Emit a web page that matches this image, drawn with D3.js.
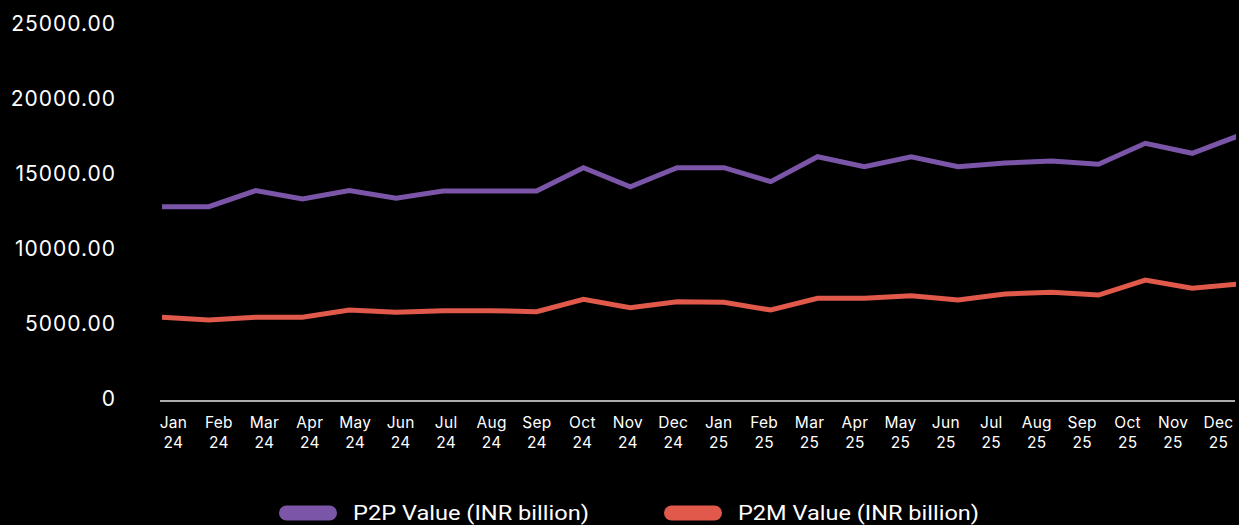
<!DOCTYPE html>
<html>
<head>
<meta charset="utf-8">
<script src="https://cdn.jsdelivr.net/npm/d3@7"></script>
<style>
  html, body { margin: 0; padding: 0; background: #000; }
  svg { display: block; }
</style>
</head>
<body>
<svg id="chart" width="1239" height="525"></svg>
<script>
// Monthly UPI transaction values, Jan 2024 – Dec 2025
const months = ["Jan 24","Feb 24","Mar 24","Apr 24","May 24","Jun 24","Jul 24","Aug 24","Sep 24","Oct 24","Nov 24","Dec 24",
                "Jan 25","Feb 25","Mar 25","Apr 25","May 25","Jun 25","Jul 25","Aug 25","Sep 25","Oct 25","Nov 25","Dec 25"];
const p2pValues = [12820, 12820, 13890, 13330, 13890, 13380, 13870, 13870, 13870, 15420, 14150, 15420,
                   15420, 14490, 16150, 15490, 16150, 15490, 15730, 15870, 15650, 17050, 16380, 17560];
const p2mValues = [5450, 5270, 5450, 5450, 5930, 5780, 5890, 5890, 5820, 6650, 6090, 6490,
                   6450, 5930, 6710, 6710, 6890, 6600, 7000, 7110, 6930, 7930, 7380, 7670];
const yTicks = [0, 5000, 10000, 15000, 20000, 25000];
const seriesNames = ["P2P Value (INR billion)", "P2M Value (INR billion)"];
const seriesColors = ["#7B55A8", "#E0594A"];

const svg = d3.select("#chart");

const x = d3.scalePoint().domain(months).range([162, 1239]);
const xLabel = d3.scalePoint().domain(months).range([173, 1218]);
const y = d3.scaleLinear().domain([0, 25000]).range([399, 24]);

// y axis labels
const yAxis = svg.append("g")
  .attr("transform", "translate(116,0)")
  .call(d3.axisLeft(y).tickValues(yTicks).tickSize(0).tickPadding(0)
    .tickFormat(d => d === 0 ? "0" : d3.format(".2f")(d)));
yAxis.select(".domain").remove();
yAxis.selectAll("text")
  .attr("fill", "#fff")
  .attr("font-family", "Inter, sans-serif")
  .attr("font-size", 21)
  .attr("letter-spacing", "1px")
  .attr("dy", "0.32em");

// x axis baseline
svg.append("line")
  .attr("x1", 160).attr("x2", 1235)
  .attr("y1", y(0) + 2).attr("y2", y(0) + 2)
  .attr("stroke", "#e6e6e6").attr("stroke-width", 1.5);

// x axis two-line labels
const xAxis = svg.append("g")
  .attr("transform", `translate(0,${y(0) + 2})`)
  .call(d3.axisBottom(xLabel).tickSize(0).tickFormat(""));
xAxis.select(".domain").remove();
xAxis.selectAll(".tick").each(function(d) {
  const [mon, yr] = d.split(" ");
  const t = d3.select(this).append("text")
    .attr("fill", "#fff")
    .attr("font-family", "Inter, sans-serif")
    .attr("font-size", 15.5)
    .attr("letter-spacing", "0.3px")
    .attr("text-anchor", "middle");
  t.append("tspan").attr("x", 0).attr("y", 27).text(mon);
  t.append("tspan").attr("x", 0).attr("y", 47).text(yr);
});

// clip lines at the right edge of the plot
svg.append("clipPath").attr("id", "plot-clip")
  .append("rect").attr("x", 150).attr("y", 0).attr("width", 1086).attr("height", 420);

const line = d3.line().x((d, i) => x(months[i])).y(d => y(d));

[p2pValues, p2mValues].forEach((vals, k) => {
  svg.append("path")
    .datum(vals)
    .attr("clip-path", "url(#plot-clip)")
    .attr("d", line)
    .attr("fill", "none")
    .attr("stroke", seriesColors[k])
    .attr("stroke-width", 5)
    .attr("stroke-linejoin", "miter");
});

// legend
const legendX = [279, 664];
const legendTextWidth = [236, 241];
seriesNames.forEach((name, k) => {
  const g = svg.append("g").attr("transform", `translate(${legendX[k]},513)`);
  g.append("rect")
    .attr("x", 0).attr("y", -7.5)
    .attr("width", 58).attr("height", 15)
    .attr("rx", 7.5)
    .attr("fill", seriesColors[k]);
  g.append("text")
    .attr("x", 74).attr("y", 0).attr("dy", "0.35em")
    .attr("fill", "#fff")
    .attr("font-family", "Roboto, sans-serif")
    .attr("font-size", 21)
    .attr("textLength", legendTextWidth[k])
    .attr("lengthAdjust", "spacingAndGlyphs")
    .text(name);
});
</script>
</body>
</html>
